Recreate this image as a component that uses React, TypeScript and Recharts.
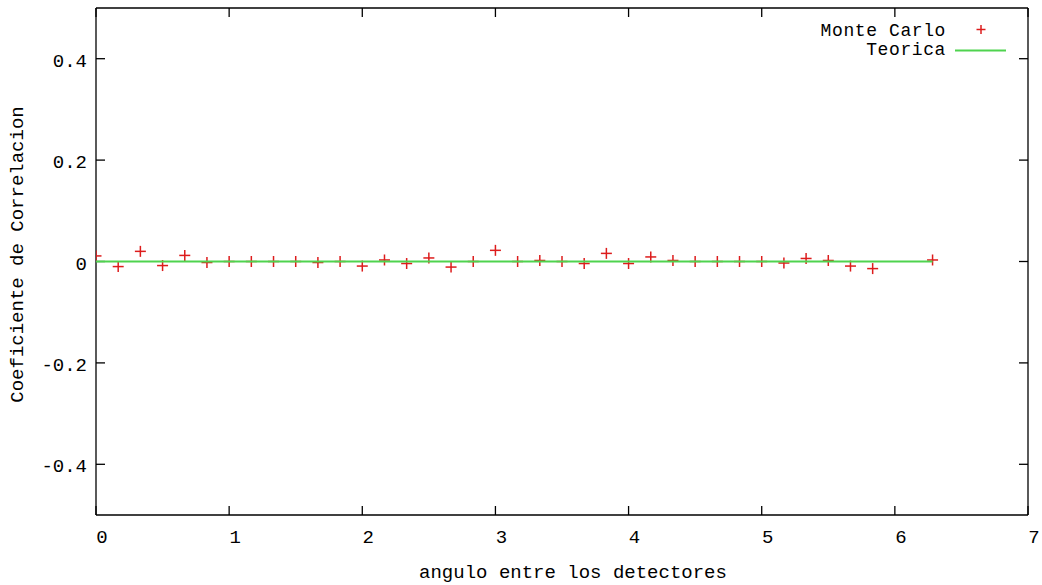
import React from 'react';
import { ScatterChart, Scatter, XAxis, YAxis, Legend } from 'recharts';

const angles = [0, 0.1667, 0.3333, 0.5, 0.6667, 0.8333, 1, 1.1667, 1.3333, 1.5, 1.6667, 1.8333, 2, 2.1667, 2.3333, 2.5, 2.6667, 2.8333, 3, 3.1667, 3.3333, 3.5, 3.6667, 3.8333, 4, 4.1667, 4.3333, 4.5, 4.6667, 4.8333, 5, 5.1667, 5.3333, 5.5, 5.6667, 5.8333, 6.2832];
const monteCarlo = [0.011, -0.01, 0.02, -0.008, 0.012, -0.002, 0, 0, 0, 0, -0.002, 0, -0.009, 0.003, -0.004, 0.007, -0.011, 0, 0.022, 0, 0.002, 0, -0.004, 0.016, -0.004, 0.009, 0.002, 0, 0, 0, 0, -0.003, 0.006, 0.002, -0.009, -0.014, 0.003];
const theoryX = [0, 6.2832];
const theoryY = [0, 0];
const xTicks = [0, 1, 2, 3, 4, 5, 6, 7];
const yTicks = [-0.4, -0.2, 0, 0.2, 0.4];
const seriesNames = ['Monte Carlo', 'Teorica'];
const xTitle = 'angulo entre los detectores';
const yTitle = 'Coeficiente de Correlacion';

const mcData = angles.map((x, i) => ({ x, y: monteCarlo[i] }));
const theoryData = theoryX.map((x, i) => ({ x, y: theoryY[i] }));

const FONT = '"Liberation Mono", "DejaVu Sans Mono", monospace';
const FS = 19;
const RED = '#dd1c1c';
const GREEN = '#4fd34f';
const TICK = -9;
const AX = { stroke: '#000', strokeWidth: 1.3 };

const Cross = (props: any) => {
  const { cx, cy } = props;
  if (cx == null || cy == null) return <g />;
  const h = 5.5;
  return (
    <g>
      <line x1={cx - h} y1={cy} x2={cx + h} y2={cy} stroke={RED} strokeWidth={1.5} />
      <line x1={cx} y1={cy - h} x2={cx} y2={cy + h} stroke={RED} strokeWidth={1.5} />
    </g>
  );
};

const BottomLabel = (props: any) => {
  const { x, y, payload } = props;
  return (
    <text x={x + 6} y={y} textAnchor="middle" dominantBaseline="central" fontFamily={FONT} fontSize={FS} fill="#000">
      {String(payload.value)}
    </text>
  );
};

const LeftLabel = (props: any) => {
  const { x, y, payload } = props;
  return (
    <text x={x} y={y + 3} textAnchor="end" dominantBaseline="central" fontFamily={FONT} fontSize={FS} fill="#000">
      {String(payload.value)}
    </text>
  );
};

const NoLabel = () => <g />;

const XTitle = (props: any) => {
  const vb = props.viewBox || {};
  return (
    <text x={vb.x + vb.width / 2 + 11} y={vb.y + 58} textAnchor="middle" dominantBaseline="central" fontFamily={FONT} fontSize={FS} fill="#000">
      {xTitle}
    </text>
  );
};

const YTitle = (props: any) => {
  const vb = props.viewBox || {};
  const cx = 18;
  const cy = vb.y + vb.height / 2 - 7;
  return (
    <text x={cx} y={cy} transform={`rotate(-90 ${cx} ${cy})`} textAnchor="middle" dominantBaseline="central" fontFamily={FONT} fontSize={FS} fill="#000">
      {yTitle}
    </text>
  );
};

const LegendContent = () => {
  const rowH = 19;
  const lfs = 18;
  return (
    <div style={{ fontFamily: FONT, fontSize: lfs, color: '#000' }}>
      <div style={{ display: 'flex', alignItems: 'center', justifyContent: 'flex-end', height: rowH }}>
        <span style={{ lineHeight: `${rowH}px`, whiteSpace: 'pre', letterSpacing: 0.6 }}>{seriesNames[0]}</span>
        <svg width={60} height={rowH} style={{ display: 'block' }}>
          <line x1={35 - 4.5} y1={rowH / 2 - 2} x2={35 + 4.5} y2={rowH / 2 - 2} stroke={RED} strokeWidth={1.5} />
          <line x1={35} y1={rowH / 2 - 6.5} x2={35} y2={rowH / 2 + 2.5} stroke={RED} strokeWidth={1.5} />
        </svg>
      </div>
      <div style={{ display: 'flex', alignItems: 'center', justifyContent: 'flex-end', height: rowH }}>
        <span style={{ lineHeight: `${rowH}px`, whiteSpace: 'pre', letterSpacing: 0.6 }}>{seriesNames[1]}</span>
        <svg width={60} height={rowH} style={{ display: 'block' }}>
          <line x1={9} y1={rowH / 2} x2={60} y2={rowH / 2} stroke={GREEN} strokeWidth={2} />
        </svg>
      </div>
    </div>
  );
};

export default function App() {
  return (
    <div style={{ position: 'absolute', left: 0, top: 0, width: 1042, height: 585, background: '#fff' }}>
      <ScatterChart width={1042} height={585} margin={{ top: 7, right: 13, bottom: 0, left: 0 }}>
        <XAxis
          xAxisId="b"
          type="number"
          dataKey="x"
          orientation="bottom"
          domain={[0, 7]}
          ticks={xTicks}
          interval={0}
          allowDataOverflow
          height={70}
          tickSize={TICK}
          tickMargin={32}
          tickLine={AX}
          axisLine={AX}
          tick={<BottomLabel />}
          label={(p: any) => <XTitle {...p} />}
        />
        <XAxis
          xAxisId="t"
          type="number"
          dataKey="x"
          orientation="top"
          domain={[0, 7]}
          ticks={xTicks}
          interval={0}
          allowDataOverflow
          height={1}
          tickSize={TICK}
          tickMargin={0}
          tickLine={AX}
          axisLine={AX}
          tick={<NoLabel />}
        />
        <YAxis
          yAxisId="l"
          type="number"
          dataKey="y"
          orientation="left"
          domain={[-0.5, 0.5]}
          ticks={yTicks}
          interval={0}
          allowDataOverflow
          width={96}
          tickSize={TICK}
          tickMargin={18}
          tickLine={AX}
          axisLine={AX}
          tick={<LeftLabel />}
          label={(p: any) => <YTitle {...p} />}
        />
        <YAxis
          yAxisId="r"
          type="number"
          dataKey="y"
          orientation="right"
          domain={[-0.5, 0.5]}
          ticks={yTicks}
          interval={0}
          allowDataOverflow
          width={1}
          tickSize={TICK}
          tickMargin={0}
          tickLine={AX}
          axisLine={AX}
          tick={<NoLabel />}
        />
        <Legend
          layout="vertical"
          align="center"
          verticalAlign="middle"
          content={<LegendContent />}
          wrapperStyle={{ top: 22, right: 36, left: 'auto', width: 'auto', bottom: 'auto' }}
        />
        <Scatter
          name={seriesNames[0]}
          data={mcData}
          xAxisId="b"
          yAxisId="l"
          shape={<Cross />}
          isAnimationActive={false}
        />
        <Scatter
          name={seriesNames[1]}
          data={theoryData}
          xAxisId="t"
          yAxisId="r"
          line={{ stroke: GREEN, strokeWidth: 2 }}
          shape={() => <g />}
          isAnimationActive={false}
        />
      </ScatterChart>
    </div>
  );
}
